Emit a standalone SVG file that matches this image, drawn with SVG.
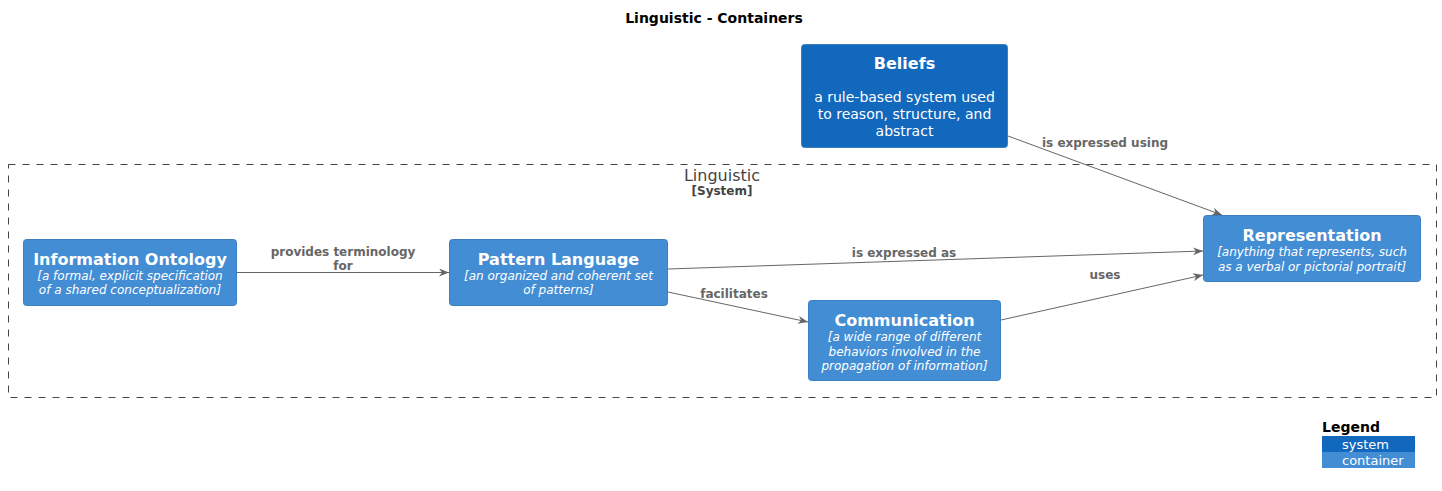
<svg xmlns="http://www.w3.org/2000/svg" width="1442" height="491" viewBox="0 0 1442 491">
<defs>
<marker id="arr" markerWidth="10" markerHeight="8" refX="10" refY="4" orient="auto" markerUnits="userSpaceOnUse">
<path d="M0,0 L10,4 L0,8 L3,4 Z" fill="#666666"/>
</marker>
<style>
text{font-family:"DejaVu Sans",Verdana,sans-serif;}
.sys{fill:#1168BD;stroke:#3C7FC0;stroke-width:1;}
.cont{fill:#438DD5;stroke:#3C7FC0;stroke-width:1;}
.ttl{fill:#FFFFFF;font-size:16px;font-weight:bold;text-anchor:middle;}
.dsc{fill:#FFFFFF;font-size:14px;text-anchor:middle;}
.tech{fill:#FFFFFF;font-size:12px;font-style:italic;text-anchor:middle;}
.lbl{fill:#666666;font-size:12px;font-weight:bold;text-anchor:middle;}
.edge{stroke:#666666;stroke-width:1;fill:none;marker-end:url(#arr);}
</style>
</defs>
<rect width="1442" height="491" fill="#FFFFFF"/>
<text x="714" y="23" font-size="14" font-weight="bold" text-anchor="middle" fill="#000000">Linguistic - Containers</text>

<g id="boundary">
<rect x="8.5" y="164.5" width="1428" height="233" fill="none" stroke="#444444" stroke-dasharray="7,7"/>
<text x="722" y="181" font-size="16" text-anchor="middle" fill="#444444">Linguistic</text>
<text x="722" y="195" font-size="12" font-weight="bold" text-anchor="middle" fill="#444444">[System]</text>
</g>

<g id="beliefs">
<rect class="sys" x="801.5" y="44.5" width="206" height="103" rx="3"/>
<text class="ttl" x="904.5" y="69">Beliefs</text>
<text class="dsc" x="904.5" y="102">a rule-based system used</text>
<text class="dsc" x="904.5" y="119">to reason, structure, and </text>
<text class="dsc" x="904.5" y="136">abstract</text>
</g>

<g id="information-ontology">
<rect class="cont" x="23.5" y="239.5" width="213" height="66" rx="3"/>
<text class="ttl" x="130" y="265">Information Ontology</text>
<text class="tech" x="130" y="280">[a formal, explicit specification </text>
<text class="tech" x="130" y="294">of a shared conceptualization]</text>
</g>

<g id="pattern-language">
<rect class="cont" x="449.5" y="239.5" width="218" height="66" rx="3"/>
<text class="ttl" x="558.5" y="265">Pattern Language</text>
<text class="tech" x="558.5" y="280">[an organized and coherent set</text>
<text class="tech" x="558.5" y="294">of patterns]</text>
</g>

<g id="communication">
<rect class="cont" x="808.5" y="300.5" width="192" height="80" rx="3"/>
<text class="ttl" x="904.5" y="326">Communication</text>
<text class="tech" x="904.5" y="341">[a wide range of different</text>
<text class="tech" x="904.5" y="356">behaviors involved in the</text>
<text class="tech" x="904.5" y="370">propagation of information]</text>
</g>

<g id="representation">
<rect class="cont" x="1203.5" y="215.5" width="217" height="66" rx="3"/>
<text class="ttl" x="1312" y="241">Representation</text>
<text class="tech" x="1312" y="256">[anything that represents, such</text>
<text class="tech" x="1312" y="271">as a verbal or pictorial portrait]</text>
</g>

<g id="connectors">
<path class="edge" d="M1008,136 L1222,215"/>
<text class="lbl" x="1105" y="147">is expressed using</text>
<path class="edge" d="M237,272.5 L449,272.5"/>
<text class="lbl" x="343" y="256">provides terminology</text>
<text class="lbl" x="343" y="270">for</text>
<path class="edge" d="M668,269 L1203,251"/>
<text class="lbl" x="904" y="257">is expressed as</text>
<path class="edge" d="M668,292 L808,322"/>
<text class="lbl" x="734" y="298">facilitates</text>
<path class="edge" d="M1001,320 L1203,275"/>
<text class="lbl" x="1105" y="279">uses</text>
</g>

<g id="legend">
<text x="1322" y="432" font-size="14" font-weight="bold" fill="#000000">Legend</text>
<rect x="1322" y="436" width="93" height="16" fill="#1168BD"/>
<rect x="1322" y="452" width="93" height="16" fill="#438DD5"/>
<text x="1342" y="449" font-size="13" fill="#FFFFFF">system</text>
<text x="1342" y="465" font-size="13" fill="#FFFFFF">container</text>
</g>
</svg>
